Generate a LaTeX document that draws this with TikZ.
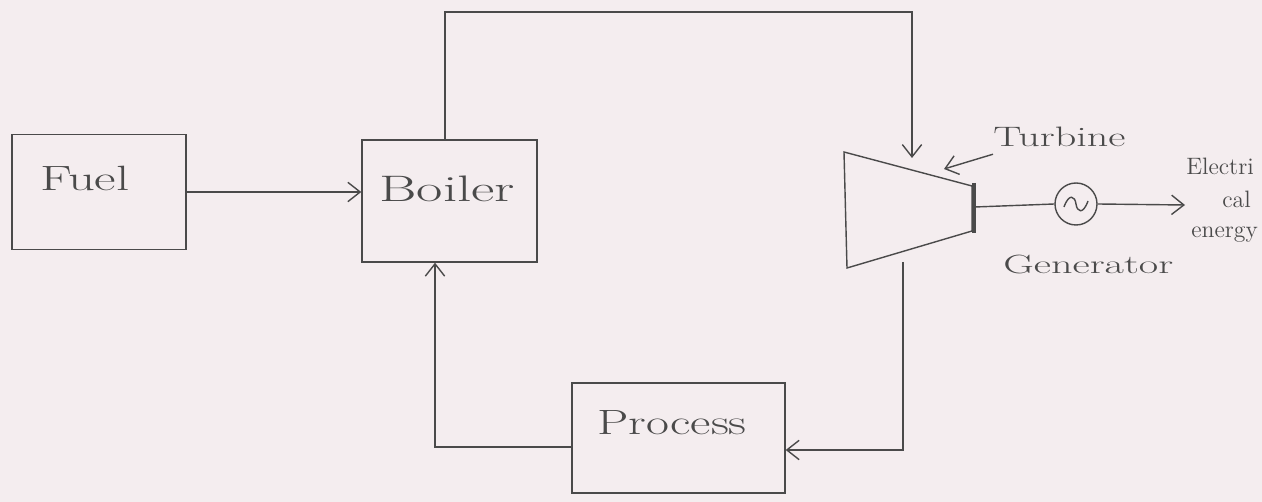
\documentclass[tikz,border=0pt]{standalone}
\usetikzlibrary{arrows.meta,calc}
\definecolor{paper}{HTML}{F4EDEF}
\definecolor{ink}{HTML}{4A4A4A}
\newcommand\handwide[2]{\scalebox{#1}[1]{#2}}
\begin{document}
\begin{tikzpicture}[x=0.02cm,y=-0.02cm,
  ink/.style={draw=ink,line width=0.8pt},
  blockbox/.style={ink,rectangle,inner sep=0pt},
  arr/.style={ink,-{Straight Barb[length=7pt,width=11pt,line width=0.8pt]}},
  lbl/.style={text=ink,inner sep=0pt,anchor=west}]
\fill[paper] (0,0) rectangle (1262,502);
\useasboundingbox (0,0) rectangle (1262,502);
% blocks
\node[blockbox,minimum width=174*0.02cm,minimum height=115*0.02cm] (fuel) at (99,192) {};
\node[lbl,font=\fontsize{20}{24}\selectfont] (fueltxt) at (40,178) {\handwide{1.5}{Fuel}};
\node[blockbox,minimum width=175*0.02cm,minimum height=122*0.02cm] (boiler) at (449.5,201) {};
\node[lbl,font=\fontsize{21}{25}\selectfont] (boilertxt) at (379,189) {\handwide{1.55}{Boiler}};
\node[blockbox,minimum width=213*0.02cm,minimum height=110*0.02cm] (process) at (678.5,438) {};
\node[lbl,font=\fontsize{20}{24}\selectfont] (processtxt) at (597,423) {\handwide{1.42}{Process}};
% turbine
\coordinate (t1) at (844,152);
\coordinate (t2) at (972,186);
\coordinate (t3) at (972,231);
\coordinate (t4) at (847,268);
\draw[ink] (t1) -- (t2) -- (t3) -- (t4) -- cycle;
\draw[draw=ink,line width=2.2pt] (974,183) -- (974,233);
\coordinate (shaft) at (975,207);
\coordinate (tin) at (912,158);
\coordinate (tout) at (903,262);
\coordinate (tpoint) at (944,169);
% generator
\node[ink,circle,minimum size=42*0.02cm,inner sep=0pt] (gen) at (1076,204) {};
\draw[ink] ($(gen.center)+(-12,3)$) .. controls ($(gen.center)+(-7,-11)$) and ($(gen.center)+(-1,-8)$) .. ($(gen.center)+(0,0)$)
  .. controls ($(gen.center)+(1,8)$) and ($(gen.center)+(7,11)$) .. ($(gen.center)+(12,-3)$);
\coordinate (elec) at (1185,205);
% labels
\node[lbl,font=\fontsize{16}{19}\selectfont] (turbtxt) at (993,137) {\handwide{1.5}{Turbine}};
\node[lbl,font=\fontsize{15}{18}\selectfont] (gentxt) at (1003,265) {\handwide{1.6}{Generator}};
\node[lbl,font=\fontsize{13.5}{16}\selectfont] (el1) at (1186,166) {Electri};
\node[lbl,font=\fontsize{13.5}{16}\selectfont] (el2) at (1222,199) {cal};
\node[lbl,font=\fontsize{13.5}{16}\selectfont] (el3) at (1191,235) {energy};
% connectors
\draw[arr] (fuel.east) -- (fuel.east -| boiler.west);
\draw[arr] ([xshift=-0.09cm]boiler.north) |- (tin |- 0,12) -- (tin);
\draw[arr] (tout) |- ([yshift=-0.24cm]process.east);
\draw[arr] ([yshift=-0.18cm]process.west) -| ([xshift=-0.29cm]boiler.south);
\draw[ink] (shaft) -- (gen.west);
\draw[arr] (gen.east) -- (elec);
\draw[arr] ([yshift=-0.14cm]turbtxt.south west) -- (tpoint);
\end{tikzpicture}
\end{document}
